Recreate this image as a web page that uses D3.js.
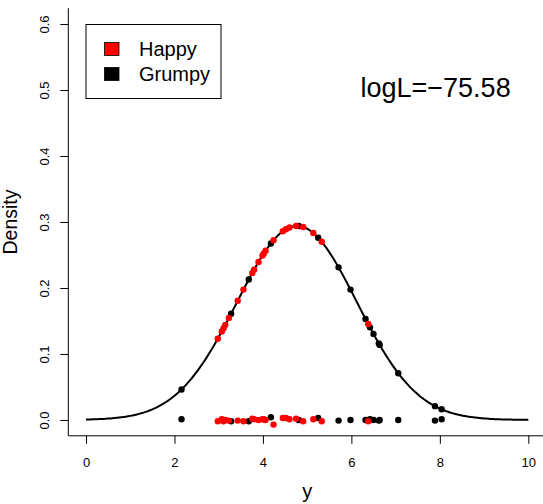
<!DOCTYPE html>
<html>
<head>
<meta charset="utf-8">
<script src="https://cdn.jsdelivr.net/npm/d3@7"></script>
<style>
  html, body { margin: 0; padding: 0; background: #fff; }
  svg { display: block; font-family: "Liberation Sans", Arial, Helvetica, sans-serif; }
</style>
</head>
<body>
<div id="chart"></div>
<script>
const happyY = [2.98, 3.07, 3.11, 3.15, 3.23, 3.43, 3.56, 3.76, 3.80, 3.90, 3.99, 4.02, 4.06, 4.24, 4.45, 4.52, 4.60, 4.75, 4.91, 5.14, 5.33, 6.38];
const grumpyY = [2.16, 3.28, 3.68, 4.18, 4.81, 5.25, 5.71, 5.98, 6.32, 6.42, 6.50, 6.62, 6.64, 7.06, 7.89, 8.04];

// small vertical offsets of the strip near zero (density units)
const happyJit = [-0.002, 0.001, -0.002, 0.000, -0.001, -0.001, -0.002, 0.002, 0.001, 0.000, 0.001, 0.001, 0.000, -0.007, 0.003, 0.003, 0.001, 0.002, -0.002, 0.001, -0.002, -0.002];
const grumpyJit = [0.001, -0.002, -0.002, 0.004, 0.000, 0.003, -0.001, 0.000, 0.000, 0.001, 0.000, -0.001, 0.000, 0.000, -0.001, 0.001];

// fitted normal
const fitMean = 4.77;
const fitSd = 1.357;
const logL = "logL=\u221275.58";

const groups = ["Happy", "Grumpy"];
const groupColors = ["#ff0000", "#000000"];

const xTicks = [0, 2, 4, 6, 8, 10];
const yTicks = [0, 0.1, 0.2, 0.3, 0.4, 0.5, 0.6];

const width = 543, height = 504;

const svg = d3.select('#chart').append('svg')
  .attr('width', width)
  .attr('height', height);

const x = d3.scaleLinear().domain([-0.4, 10.4]).range([68.3, 546]);
const y = d3.scaleLinear().domain([-0.024, 0.624]).range([435.8, 8.2]);

const dnorm = v => Math.exp(-0.5 * ((v - fitMean) / fitSd) ** 2) / (fitSd * Math.sqrt(2 * Math.PI));

// L-shaped box
svg.append('path')
  .attr('d', `M${x(-0.4)},${y(0.624)}V${y(-0.024)}H${width + 5}`)
  .attr('fill', 'none')
  .attr('stroke', '#000')
  .attr('stroke-width', 1);

// x axis
const xAxis = svg.append('g')
  .attr('transform', `translate(0,${y(-0.024)})`)
  .call(d3.axisBottom(x).tickValues(xTicks).tickSize(8).tickPadding(14).tickFormat(d3.format('d')));
xAxis.select('.domain').remove();
xAxis.selectAll('text').attr('font-size', 13).attr('font-family', null).attr('fill', '#000');
xAxis.selectAll('line').attr('stroke', '#000');

// y axis
const yAxis = svg.append('g')
  .attr('transform', `translate(${x(-0.4)},0)`)
  .call(d3.axisLeft(y).tickValues(yTicks).tickSize(8).tickFormat(d3.format('.1f')));
yAxis.select('.domain').remove();
yAxis.selectAll('line').attr('stroke', '#000');
yAxis.selectAll('text')
  .attr('font-size', 13).attr('font-family', null).attr('fill', '#000')
  .attr('x', null).attr('dy', null)
  .attr('text-anchor', 'middle')
  .attr('transform', 'translate(-19,0) rotate(-90)');

// axis titles
svg.append('text')
  .attr('x', (x(0) + x(10)) / 2)
  .attr('y', 498)
  .attr('text-anchor', 'middle')
  .attr('font-size', 20)
  .text('y');

svg.append('text')
  .attr('transform', `translate(17,${y(0.3)}) rotate(-90)`)
  .attr('text-anchor', 'middle')
  .attr('font-size', 19.5)
  .text('Density');

// density curve
const curveX = d3.range(0, 10.001, 0.05);
svg.append('path')
  .datum(curveX)
  .attr('fill', 'none')
  .attr('stroke', '#000')
  .attr('stroke-width', 2)
  .attr('d', d3.line().x(d => x(d)).y(d => y(dnorm(d))));

// points
const pts = [];
grumpyY.forEach((v, i) => pts.push({ v, j: grumpyJit[i], g: 1 }));
happyY.forEach((v, i) => pts.push({ v, j: happyJit[i], g: 0 }));

const ptG = svg.append('g');
ptG.selectAll('circle.strip')
  .data(pts)
  .join('circle')
  .attr('class', 'strip')
  .attr('cx', d => x(d.v))
  .attr('cy', d => y(d.j))
  .attr('r', 3.2)
  .attr('fill', d => groupColors[d.g]);

ptG.selectAll('circle.oncurve')
  .data(pts)
  .join('circle')
  .attr('class', 'oncurve')
  .attr('cx', d => x(d.v))
  .attr('cy', d => y(dnorm(d.v)))
  .attr('r', 3.2)
  .attr('fill', d => groupColors[d.g]);

// legend
const legend = svg.append('g');
legend.append('rect')
  .attr('x', 86).attr('y', 24.5)
  .attr('width', 135).attr('height', 74)
  .attr('fill', '#fff')
  .attr('stroke', '#000');

groups.forEach((gname, i) => {
  legend.append('rect')
    .attr('x', 104.5).attr('y', 42.5 + i * 25)
    .attr('width', 14.5).attr('height', 13)
    .attr('fill', groupColors[i])
    .attr('stroke', '#000')
    .attr('stroke-width', 0.8);
  legend.append('text')
    .attr('x', 139).attr('y', 56 + i * 25)
    .attr('font-size', 20)
    .text(gname);
});

// log-likelihood label
svg.append('text')
  .attr('x', 360.5)
  .attr('y', 97)
  .attr('font-size', 27)
  .text(logL);
</script>
</body>
</html>
